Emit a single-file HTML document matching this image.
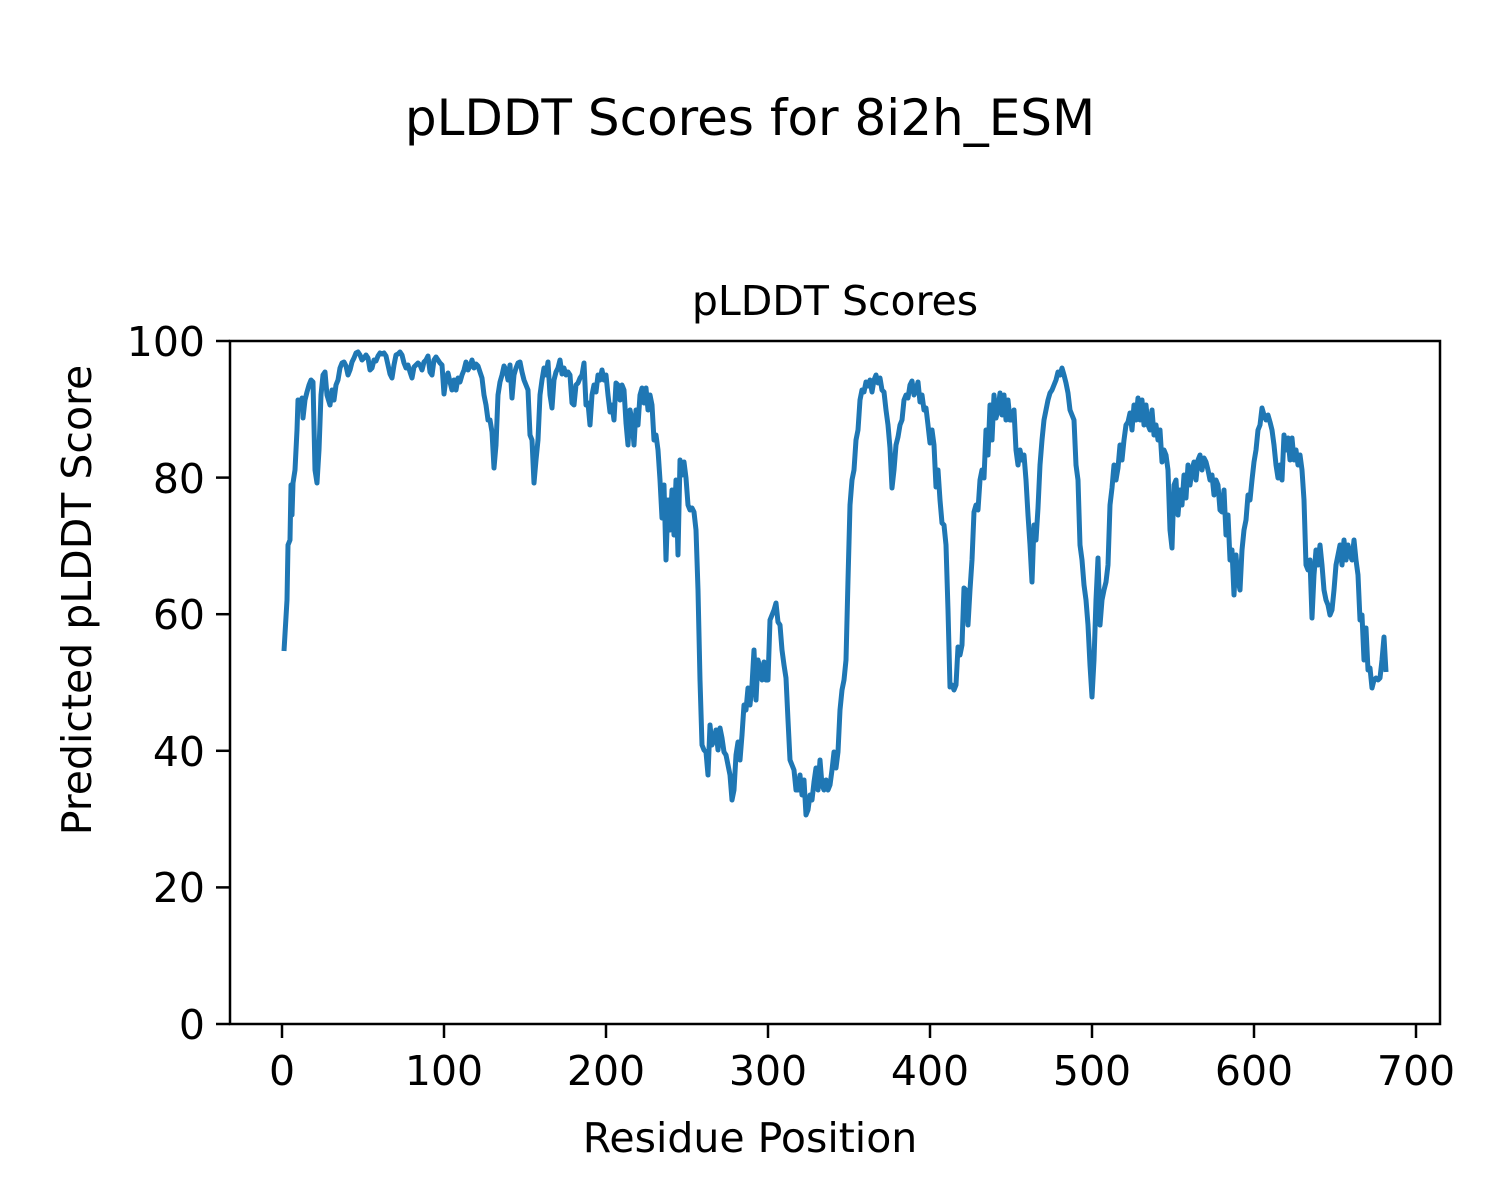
<!DOCTYPE html>
<html><head><meta charset="utf-8"><style>body{margin:0;background:#fff}svg{display:block}</style></head><body>
<svg width="1500" height="1200" xmlns="http://www.w3.org/2000/svg" font-family="DejaVu Sans, Liberation Sans, sans-serif">
<rect width="1500" height="1200" fill="#fff"/>
<text x="750" y="135" font-size="50" text-anchor="middle">pLDDT Scores for 8i2h_ESM</text>
<text x="835" y="315" font-size="41" text-anchor="middle">pLDDT Scores</text>
<polyline fill="none" stroke="#1f77b4" stroke-width="5" stroke-linejoin="round" points="284,651 287,600 288,545 290,540 291,485 292,515 293,483 295,470 297,430 298,400 300,405 302,398 303,418 305,400 307,392 309,385 311,380 313,382 315,470 317,483 319,450 321,395 323,375 325,372 327,395 330,405 332,390 334,400 336,385 338,380 340,368 342,363 344,362 346,366 348,375 350,370 352,362 354,358 356,353 358,352 360,355 362,360 364,358 366,355 368,358 370,370 372,368 374,360 376,361 378,356 380,353 382,354 384,353 386,356 388,365 390,374 392,378 394,365 396,355 398,354 400,352 402,355 404,363 406,368 408,365 410,372 412,378 414,367 416,365 418,363 420,365 422,370 424,362 426,360 428,356 430,372 432,375 434,360 436,357 438,360 440,363 442,365 444,394 446,378 448,373 450,382 452,390 454,380 456,390 458,378 460,382 462,375 464,370 466,362 468,370 470,366 472,360 474,368 476,364 478,366 480,372 482,378 484,395 486,405 488,420 490,420 492,432 494,468 496,445 498,395 500,382 502,375 504,366 506,370 508,380 510,365 512,398 514,375 516,368 518,363 520,362 522,372 524,380 526,385 528,390 530,435 532,440 534,483 536,460 538,440 540,395 542,380 544,368 546,375 548,362 550,395 552,408 554,380 556,372 558,368 560,360 562,374 564,368 566,375 568,372 570,375 572,403 574,405 576,385 578,383 580,378 582,375 584,363 586,405 588,403 590,425 592,395 594,385 596,392 598,375 600,380 602,370 604,380 606,375 608,395 610,412 612,405 614,420 616,383 618,385 620,400 622,385 624,390 626,423 628,445 630,410 632,420 634,445 636,410 638,425 640,395 642,388 644,403 646,388 648,410 650,395 652,405 654,440 656,435 658,450 660,480 662,518 664,485 666,560 668,500 670,530 672,490 674,535 676,480 678,555 680,460 682,475 684,462 686,478 688,505 690,510 692,508 694,512 696,530 698,590 700,680 702,745 704,750 706,752 708,775 710,725 712,745 714,740 716,730 718,750 720,728 722,738 724,752 726,755 728,765 730,775 732,800 734,790 736,755 738,742 740,760 742,735 744,705 746,710 748,688 750,705 752,685 754,650 756,700 758,660 760,668 762,680 764,662 766,680 768,680 770,620 772,615 774,610 776,603 778,622 780,625 782,650 784,665 786,678 788,720 790,760 792,765 794,770 796,790 798,790 800,775 802,795 804,780 806,815 808,810 810,795 812,800 814,782 816,768 818,790 820,760 822,785 824,790 826,780 828,790 830,785 832,770 834,752 836,768 838,752 840,710 842,690 844,680 846,660 848,580 850,505 852,480 854,470 856,440 858,430 860,400 862,390 864,392 866,382 868,386 870,380 872,392 874,380 876,375 878,383 880,378 882,390 884,392 886,410 888,425 890,448 892,488 894,470 896,445 898,437 900,425 902,420 904,400 906,395 908,398 910,385 912,381 914,395 916,390 918,382 920,402 922,395 924,410 926,408 928,425 930,443 932,430 934,445 936,487 938,470 940,500 942,523 944,525 946,545 948,610 950,687 952,685 954,690 956,685 958,647 960,655 962,645 964,588 966,590 968,625 970,590 972,560 974,512 976,505 978,510 980,480 982,470 984,478 986,430 988,455 990,405 992,440 994,395 996,418 998,410 1000,393 1002,415 1004,395 1006,420 1008,400 1010,420 1012,420 1014,410 1016,450 1018,465 1020,450 1022,460 1024,455 1026,480 1028,515 1030,545 1032,582 1034,525 1036,540 1038,508 1040,465 1042,440 1044,420 1046,410 1048,400 1050,393 1052,390 1054,385 1056,380 1058,372 1060,375 1062,368 1064,375 1066,383 1068,393 1070,410 1072,415 1074,420 1076,465 1078,480 1080,545 1082,560 1084,585 1086,600 1088,625 1090,665 1092,697 1094,660 1096,600 1098,558 1100,625 1102,600 1104,590 1106,582 1108,565 1110,505 1112,488 1114,465 1116,480 1118,468 1120,445 1122,460 1124,440 1126,425 1128,422 1130,413 1132,430 1134,405 1136,420 1138,398 1140,420 1142,400 1144,425 1146,405 1148,425 1150,430 1152,410 1154,435 1156,425 1158,440 1160,430 1162,462 1164,450 1166,455 1168,470 1170,530 1172,548 1174,485 1176,480 1178,515 1180,490 1182,505 1184,475 1186,498 1188,465 1190,485 1192,470 1194,462 1196,480 1198,460 1200,455 1202,470 1204,458 1206,462 1208,470 1210,480 1212,475 1214,495 1216,480 1218,485 1220,510 1222,512 1224,490 1226,535 1228,515 1230,560 1232,550 1234,595 1236,555 1238,580 1240,590 1242,550 1244,530 1246,520 1248,495 1250,500 1252,480 1254,462 1256,450 1258,430 1260,425 1262,408 1264,415 1266,420 1268,415 1270,422 1272,430 1274,445 1276,465 1278,478 1280,465 1282,480 1284,435 1286,450 1288,438 1290,460 1292,438 1294,460 1296,450 1298,465 1300,455 1302,470 1304,500 1306,565 1308,570 1310,560 1312,618 1314,575 1316,550 1318,565 1320,545 1322,565 1324,590 1326,600 1328,605 1330,615 1332,610 1334,590 1336,565 1338,555 1340,545 1342,565 1344,540 1346,560 1348,545 1350,555 1352,560 1354,540 1356,560 1358,575 1360,620 1362,615 1364,660 1366,628 1368,670 1370,668 1372,688 1374,680 1376,678 1378,680 1380,678 1382,660 1384,637 1386,672"/>
<rect x="230" y="341" width="1210" height="683" fill="none" stroke="#000" stroke-width="2.5"/>
<g stroke="#000" stroke-width="2.5">
<line x1="282" y1="1024" x2="282" y2="1038"/><line x1="444" y1="1024" x2="444" y2="1038"/><line x1="606" y1="1024" x2="606" y2="1038"/><line x1="768" y1="1024" x2="768" y2="1038"/><line x1="930" y1="1024" x2="930" y2="1038"/><line x1="1092" y1="1024" x2="1092" y2="1038"/><line x1="1254" y1="1024" x2="1254" y2="1038"/><line x1="1416" y1="1024" x2="1416" y2="1038"/>
<line x1="216" y1="1024" x2="230" y2="1024"/><line x1="216" y1="887.4" x2="230" y2="887.4"/><line x1="216" y1="750.8" x2="230" y2="750.8"/><line x1="216" y1="614.2" x2="230" y2="614.2"/><line x1="216" y1="477.6" x2="230" y2="477.6"/><line x1="216" y1="341" x2="230" y2="341"/>
</g>
<g font-size="41" text-anchor="middle">
<text x="282" y="1085">0</text><text x="444" y="1085">100</text><text x="606" y="1085">200</text><text x="768" y="1085">300</text><text x="930" y="1085">400</text><text x="1092" y="1085">500</text><text x="1254" y="1085">600</text><text x="1416" y="1085">700</text>
</g>
<g font-size="41" text-anchor="end">
<text x="205" y="1039">0</text><text x="205" y="902">20</text><text x="205" y="766">40</text><text x="205" y="629">60</text><text x="205" y="493">80</text><text x="205" y="356">100</text>
</g>
<text x="750" y="1152" font-size="41" text-anchor="middle">Residue Position</text>
<text transform="translate(91,600) rotate(-90)" font-size="41" text-anchor="middle">Predicted pLDDT Score</text>
</svg>
</body></html>
